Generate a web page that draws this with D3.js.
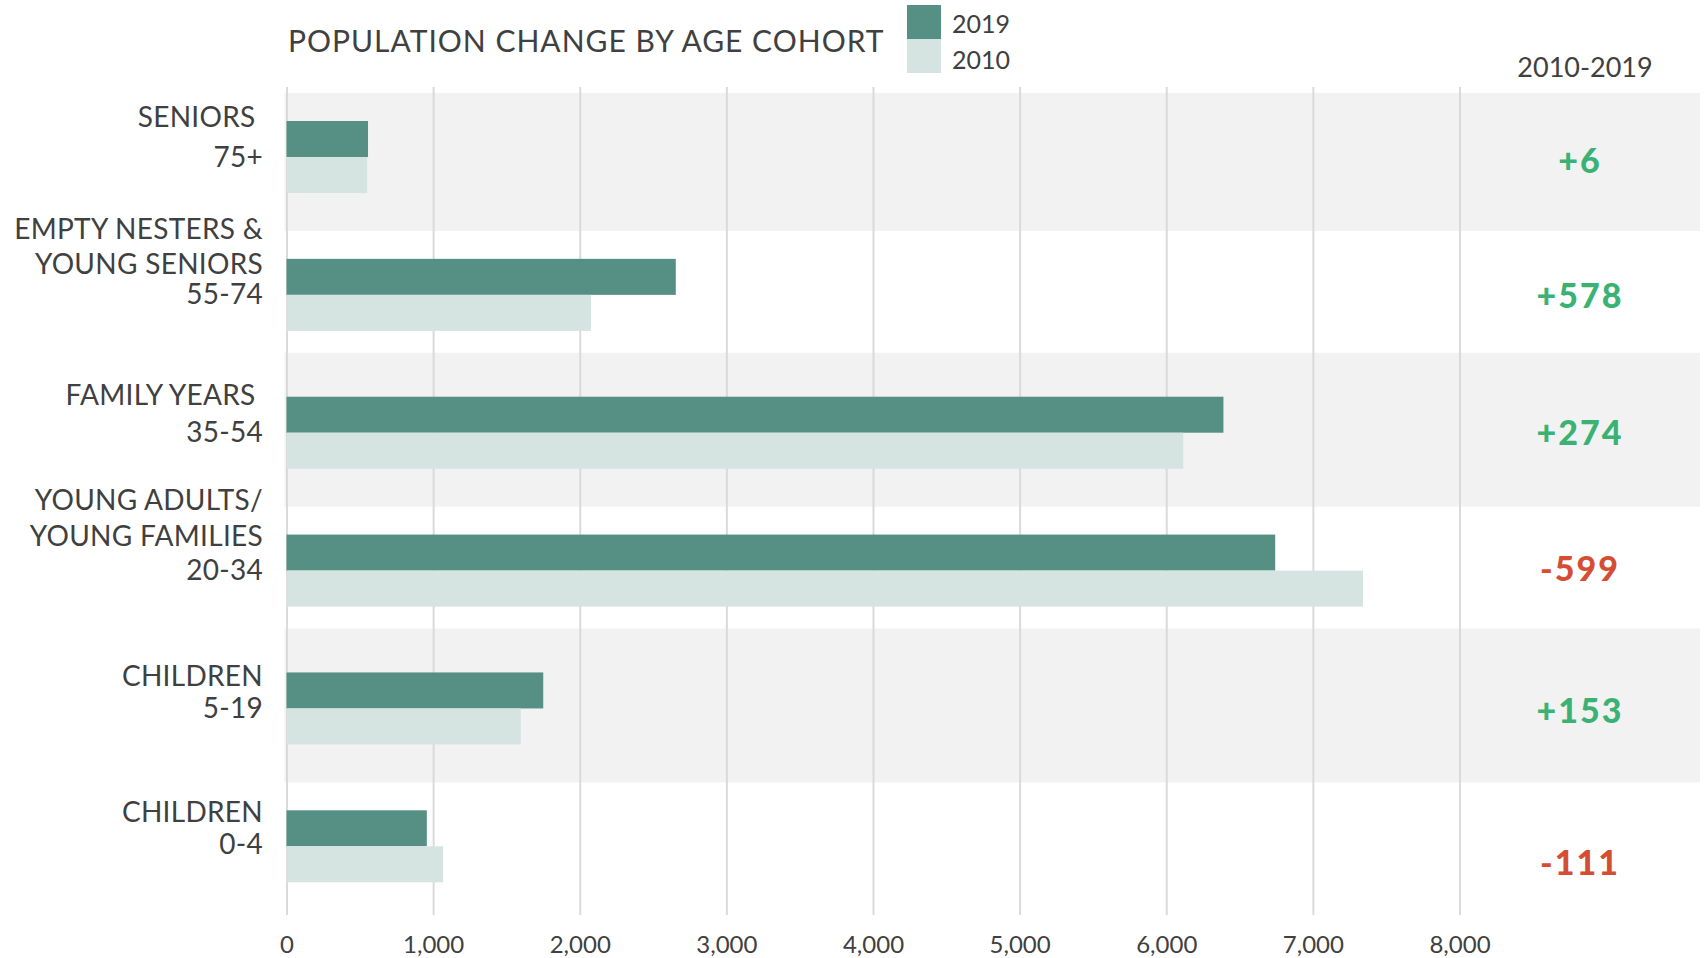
<!DOCTYPE html>
<html>
<head>
<meta charset="utf-8">
<script src="https://cdn.jsdelivr.net/npm/d3@7"></script>
<style>
  html, body { margin: 0; padding: 0; background: #ffffff; }
  svg { display: block; font-family: Lato, "Open Sans", sans-serif; }
  text { white-space: pre; }
</style>
</head>
<body>
<svg id="chart" width="1708" height="958"></svg>
<script>
// Population by age cohort, 2010 vs 2019
const cohortNames = [
  ["SENIORS "],
  ["EMPTY NESTERS &", "YOUNG SENIORS"],
  ["FAMILY YEARS "],
  ["YOUNG ADULTS/", "YOUNG FAMILIES"],
  ["CHILDREN"],
  ["CHILDREN"]
];
const ageRanges = ["75+", "55-74", "35-54", "20-34", "5-19", "0-4"];
const pop2019 = [556, 2655, 6390, 6743, 1751, 957];
const pop2010 = [550, 2077, 6116, 7342, 1598, 1068];
const seriesNames = ["2019", "2010"];
const xTicks = [0, 1000, 2000, 3000, 4000, 5000, 6000, 7000, 8000];

// layout
const W = 1708, H = 958;
const x0 = 286.5, x8000 = 1459.5;
const rowTop = 121, rowStep = 137.86, barH = 36;
const colors = { "2019": "#568f84", "2010": "#d5e4e0" };
const textColor = "#404040";
const green = "#3bb273", red = "#d54e33";

// baseline offsets (from top of each row's bar pair) for the label lines
const labelOffsets = [
  [5.7, 46.3],
  [-20, 15, 45],
  [8, 45],
  [-24.3, 11.7, 45],
  [13.4, 46],
  [11.4, 43.7]
];
const changeOffsets = [52, 49, 48.7, 46.7, 51, 64.7];

const svg = d3.select("#chart");

const x = d3.scaleLinear().domain([0, 8000]).range([x0, x8000]);
const y = d3.scaleBand().domain(ageRanges)
  .range([rowTop, rowTop + rowStep * ageRanges.length]).padding(0);
const ySeries = d3.scaleBand().domain(seriesNames).range([0, barH * 2]).padding(0);

// alternating row bands
const bandRows = ageRanges.filter((d, i) => i % 2 === 0);
svg.append("g").selectAll("rect")
  .data(bandRows)
  .join("rect")
  .attr("x", x0 - 2)
  .attr("width", 1700 - (x0 - 2))
  .attr("y", d => Math.max(y(d) - 44, 93))
  .attr("height", d => (y(d) + 110) - Math.max(y(d) - 44, 93))
  .attr("fill", "#f2f2f2");

// vertical gridlines + tick labels
const axis = d3.axisBottom(x)
  .tickValues(xTicks)
  .tickSize(-(915 - 87))
  .tickPadding(0)
  .tickFormat(d3.format(","));
const gAxis = svg.append("g")
  .attr("transform", `translate(0,915)`)
  .call(axis);
gAxis.select(".domain").remove();
gAxis.selectAll(".tick line").attr("stroke", "#dadada").attr("stroke-width", 2);
gAxis.selectAll(".tick text")
  .attr("y", 38)
  .attr("dy", 0)
  .attr("fill", textColor)
  .style("font-family", "Lato, sans-serif")
  .style("font-size", "24px");

// bars
const rows = ageRanges.map((a, i) => ({ age: a, i, v2019: pop2019[i], v2010: pop2010[i] }));
const gBars = svg.append("g");
gBars.selectAll("g")
  .data(rows)
  .join("g")
  .attr("transform", d => `translate(0,${y(d.age)})`)
  .selectAll("rect")
  .data(d => seriesNames.map(s => ({ s, v: s === "2019" ? d.v2019 : d.v2010 })))
  .join("rect")
  .attr("x", x(0))
  .attr("y", d => ySeries(d.s))
  .attr("width", d => x(d.v) - x(0))
  .attr("height", ySeries.bandwidth())
  .attr("fill", d => colors[d.s]);

// cohort labels
const gLabels = svg.append("g")
  .attr("fill", textColor)
  .style("font-size", "28px")
  .style("letter-spacing", "0.3px")
  .attr("text-anchor", "end");
rows.forEach(r => {
  const lines = cohortNames[r.i].concat([r.age]);
  gLabels.selectAll(null)
    .data(lines)
    .join("text")
    .attr("x", 263)
    .attr("y", (d, j) => y(r.age) + labelOffsets[r.i][j])
    .text(d => d);
});

// change column
svg.append("text")
  .attr("x", 1585)
  .attr("y", 76.5)
  .attr("text-anchor", "middle")
  .attr("fill", textColor)
  .style("font-size", "27px")
  .text("2010-2019");

svg.append("g").selectAll("text")
  .data(rows)
  .join("text")
  .attr("x", 1580)
  .attr("y", d => y(d.age) + changeOffsets[d.i])
  .attr("text-anchor", "middle")
  .attr("fill", d => (d.v2019 - d.v2010) >= 0 ? green : red)
  .style("font-size", "34px")
  .style("font-weight", 900)
  .style("letter-spacing", "2px")
  .text(d => { const c = d.v2019 - d.v2010; return (c >= 0 ? "+" : "-") + Math.abs(c); });

// title
svg.append("text")
  .attr("x", 288)
  .attr("y", 52)
  .attr("fill", textColor)
  .style("font-size", "30px")
  .style("letter-spacing", "1px")
  .text("POPULATION CHANGE BY AGE COHORT");

// legend
const legend = svg.append("g").attr("transform", "translate(907,5)");
legend.selectAll("rect")
  .data(seriesNames)
  .join("rect")
  .attr("x", 0)
  .attr("y", (d, i) => i * 34)
  .attr("width", 34)
  .attr("height", 34)
  .attr("fill", d => colors[d]);
legend.selectAll("text")
  .data(seriesNames)
  .join("text")
  .attr("x", 45)
  .attr("y", (d, i) => 28 + i * 36)
  .attr("fill", textColor)
  .style("font-size", "25px")
  .text(d => d);
</script>
</body>
</html>
